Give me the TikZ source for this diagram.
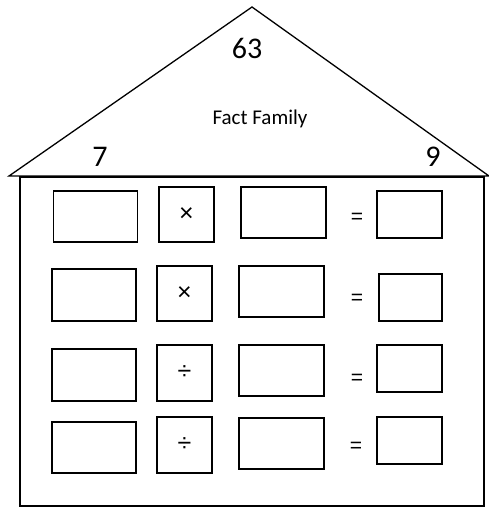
\documentclass[tikz,border=0pt]{standalone}
\usepackage{fontspec}
\setmainfont{Carlito}
\newfontfamily\opfont{Liberation Sans}
\begin{document}
\begin{tikzpicture}[x=1pt,y=-1pt,
  cell/.style={draw, line width=1.4pt, inner sep=0pt, rectangle},
  wide/.style={cell, minimum width=84pt, minimum height=51pt},
  opbox/.style={cell, minimum width=55pt, minimum height=55pt, font=\opfont\fontsize{25}{25}\selectfont},
  ans/.style={cell, minimum width=64pt, minimum height=47pt},
  eqs/.style={inner sep=0pt, font=\opfont\fontsize{21}{21}\selectfont},
  line/.style={line width=1.3pt}]
\useasboundingbox (0,0) rectangle (489,508);
% roof
\coordinate (apex) at (252,7);
\coordinate (roofl) at (9,176);
\coordinate (roofr) at (489,176);
\draw[line, line join=miter] (roofl) -- (apex) -- (roofr) -- cycle;
% house body
\draw[line] (20,177) rectangle (484,506);
% texts
\node[font=\fontsize{30}{30}\selectfont] (top) at (247,48) {63};
\node[font=\fontsize{21}{21}\selectfont] (ff) at (260,119) {Fact Family};
\node[font=\fontsize{30}{30}\selectfont] (left) at (100,157) {7};
\node[font=\fontsize{30}{30}\selectfont] (right) at (433,157) {9};
% row 1
\node[wide] (a1) at (95.5,216.5) {};
\node[opbox] (o1) at (186.5,214.5) {\raisebox{-3pt}{×}};
\node[wide, minimum width=85pt] (b1) at (283.5,212.5) {};
\node[eqs] (e1) at (357,218) {=};
\node[ans, minimum width=65pt] (c1) at (409.5,214.5) {};
% row 2
\node[wide, minimum height=52pt] (a2) at (94,295) {};
\node[opbox] (o2) at (184.5,293.5) {\raisebox{-3pt}{×}};
\node[wide, minimum width=85pt] (b2) at (281.5,291.5) {};
\node[eqs] (e2) at (357,299) {=};
\node[ans, minimum width=63pt] (c2) at (410.5,297.5) {};
% row 3
\node[wide, minimum height=52pt] (a3) at (94,375) {};
\node[opbox, minimum height=56pt] (o3) at (184.5,373) {\raisebox{-2pt}{÷}};
\node[wide, minimum width=85pt] (b3) at (281.5,370.5) {};
\node[eqs] (e3) at (357,379) {=};
\node[ans, minimum width=65pt] (c3) at (409.5,368.5) {};
% row 4
\node[wide] (a4) at (94,447.5) {};
\node[opbox, minimum height=56pt] (o4) at (184.5,445) {\raisebox{-2pt}{÷}};
\node[wide, minimum width=85pt] (b4) at (281.5,443.5) {};
\node[eqs] (e4) at (356,447) {=};
\node[ans, minimum width=65pt] (c4) at (409.5,440.5) {};
\end{tikzpicture}
\end{document}
